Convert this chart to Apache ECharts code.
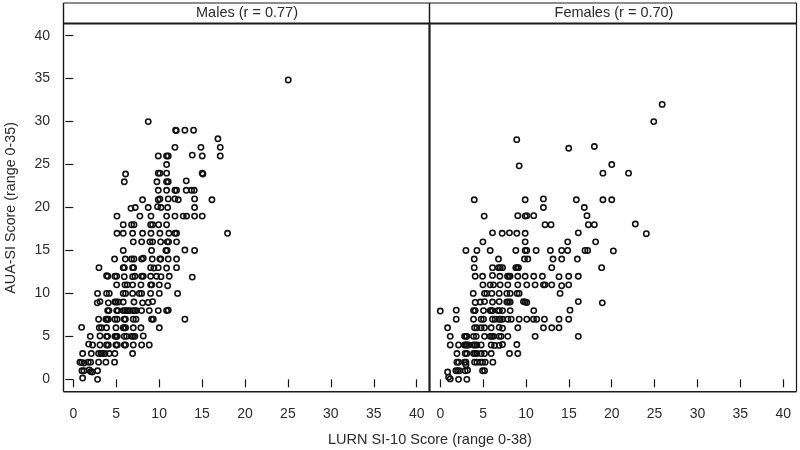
<!DOCTYPE html>
<html><head><meta charset="utf-8">
<style>html,body{margin:0;padding:0;background:#fff}#c{width:800px;height:450px}</style>
<script src="https://cdn.jsdelivr.net/npm/echarts@6/dist/echarts.min.js"></script>
</head><body><div id="c"></div>
<script>
const panelTitles = ['Males (r = 0.77)', 'Females (r = 0.70)'];
const xAxisTitle = 'LURN SI-10 Score (range 0-38)';
const yAxisTitle = 'AUA-SI Score (range 0-35)';
const xTicks = [0,5,10,15,20,25,30,35,40];
const yTicks = [0,5,10,15,20,25,30,35,40];

const malePoints = [
[1.09,0.15],[2.83,0],
[1.01,1],[1.24,1],[1.86,1.1],[2.02,.9],[2.21,.85],[2.83,1],
[.78,2],[.97,1.95],[1.24,1.9],[1.75,2],[2.02,2],[2.95,2],[3.8,2],[4.81,2],
[1.09,3],[2.1,3],[2.95,3],[3.22,3],[3.4,3],[3.69,3],[4.19,3],[4.85,3],[6.91,3],
[1.79,4.1],[2.25,4],[3.11,4],[3.88,4],[4.08,4],[4.97,4],[5.12,4],[5.94,4],[6.09,4],[6.99,4],[7.96,4],[8.85,4],
[1.98,5],[3.11,5.05],[3.88,5],[4.0,5],[4.85,5],[5.12,5],[5.0,5],[5.94,5],[6.21,5],[6.79,5],[7.0,5],[7.18,5],[8.15,5.05],
[.97,6.05],[3.03,6],[3.3,6],[3.88,6],[4.97,6],[5.82,6],[5.95,6],[6.09,6],[6.99,6],[7.88,6],[10.02,6],
[2.95,7],[3.8,7],[4.08,7],[3.95,7],[4.85,7],[5.12,7],[5.94,7],[6.07,7],[6.99,7],[7.3,7],[9.12,7],[9.32,7],[13,7],
[4,8],[4.15,8],[5.05,8],[5.2,8],[5.82,8],[6.0,8],[6.21,8],[6.4,8],[6.6,8],[6.99,8],[7.15,8],[7.38,8],[7.96,8],[8.85,8],[9.9,8],[10.87,8],[11.06,8.05],
[2.8,8.9],[3.11,9.05],[4.08,8.9],[4.85,9],[5.0,9],[5.24,9],[5.82,9],[7.07,9],[8.07,8.9],[8.73,8.95],[9.24,9.05],
[2.83,10],[3.88,10],[4.19,10],[5.82,10],[6.09,10],[6.91,10],[7.69,10],[7.96,10],[9.01,10],[10.02,10],[12.15,10],
[5.05,11],[6.02,11],[6.29,11],[6.91,11],[7.88,11],[9.01,11],[9.15,11],[10.02,11],[10.99,10.9],
[3.88,12.05],[4.02,12],[4.85,12],[5.05,12],[5.94,11.95],[6.91,11.95],[7.18,12],[7.96,12],[8.15,12],[9.01,12],[9.7,12],[10.21,11.95],[11.18,12],[13.86,11.9],
[2.99,13],[5.82,13],[5.95,13],[6.91,13],[7.03,13],[9.01,13],[9.39,12.95],[9.9,13],[10.87,12.95],[12.03,13],
[4.81,14],[6.06,14],[6.79,14],[7.07,14],[7.96,14],[8.15,14.1],[9.2,14],[10.09,14],[10.2,14],[11.06,14],[12.03,14],
[5.82,15],[9.12,15],[10.79,15],[10.93,15],[13,15.05],[14.13,15],
[6.99,16],[7.96,16],[8.93,16],[9.24,16],[10.17,16],[10.95,16],[11.1,16],[12.03,16],
[5.09,17],[5.82,17],[6.91,17],[8.07,17],[9.05,17],[10.09,17],[11.14,17],[11.84,17],[12.03,17],[17.97,17],
[5.82,18],[6.79,18],[7.07,18],[9.01,18],[9.24,18],[9.94,18],[10.87,18],
[5.09,19],[7.76,19],[9.05,19],[10.87,19],[11.84,19],[12.81,19],[13.2,19],[14.13,19],[15.02,19],
[6.72,19.9],[7.22,20],[8.73,20],[9.82,20.1],[10.21,20],[10.99,20],[14.13,20],
[8.07,20.9],[9.9,20.9],[10.09,21],[11.06,21],[11.84,21],[12.23,20.9],[14.13,21],[16.15,20.9],
[9.9,22],[10.87,22],[11.84,22],[12.03,22],[13.16,22],[13.78,22],[14.09,22],
[5.94,23],[9.74,23],[10.87,23],[11.06,23],[13.16,23.1],
[6.09,23.9],[9.9,24],[10.09,24],[10.87,24],[15.02,24],[15.1,23.9],
[10.87,25],
[9.9,26],[10.87,26],[11.06,26],[13.86,26.1],[15.02,26],[17.12,26],
[11.84,27],[14.87,27],[17.12,27],
[16.85,28],
[11.92,29],[12.0,28.95],[13,29],[14.01,29],
[8.73,30],
[25.04,34.85]
];

const femalePoints = [
[.97,.25],[1.16,.05],[2.13,0],[3.1,0],
[.85,.85],[1.82,1],[2.02,1],[2.25,1],[2.91,1],[3.18,1.05],[4.93,1],[5.16,1],
[1.94,2],[2.13,2],[2.83,2],[2.99,1.7],[2.99,2],[4,2],[4.27,2],[4.66,2],[4.93,2],[5.24,2],[6.13,2],
[1.94,3],[2.91,3],[3.1,3],[3.88,3],[4.07,3],[4.27,3],[4.77,3],[5.16,3],[5.94,3],[8.07,3],[9.04,3],
[1.16,4],[2.13,4],[2.83,4],[2.97,4],[3.1,4],[3.3,4],[3.88,4],[4.05,4],[4.27,4],[4.77,4],[5.94,4],[6.33,3.95],[6.87,3.95],[7.26,4.05],[8.93,4.05],
[1.16,5],[2.83,5],[3.0,5],[3.1,5],[3.88,5],[4.19,5],[5.16,5],[5.82,5],[6.0,5],[6.21,5],[6.87,5],[7.1,5],[7.88,5],[11.06,5],[16.1,5],
[.85,6],[4,6],[4.27,6],[4.77,6],[5.16,6],[5.94,6],[6.87,6.05],[7.26,5.95],[9.04,6],[12.03,6],[13,6],[13.85,6],
[1.86,7],[3.88,7],[4.77,7],[5.04,7],[6.09,7],[6.4,7],[6.87,7],[7.0,7],[7.26,7],[7.88,7],[8.27,7],[9.2,7],[10.09,7],[10.87,7],[11.25,7],[12.15,7],[13.85,7],[14.98,7],
[0,7.95],[1.86,8.05],[3.88,8],[4.07,8],[5.04,8],[5.82,8],[5.95,8],[6.09,8],[6.71,8],[6.9,8],[7.26,8],[8.15,8],[10.9,8],[15.13,8.05],
[4.07,8.95],[4.66,9],[5.16,9.05],[6.09,9],[6.87,9.05],[7.76,9],[7.95,9],[8.15,9],[9.7,9.05],[9.9,9],[10.09,8.95],[16.1,9.05],[18.9,8.9],
[3.84,10],[5.16,10],[5.43,10],[6.01,10],[6.87,10],[7.76,10],[8.15,10],[8.96,10],[9.2,10],[13.97,10],
[4.97,11],[5.82,11],[6.21,11],[6.98,11],[7.88,11],[9.04,11],[10.09,11],[11.06,11],[12.03,11],[12.22,11],[13,11],[14.16,10.9],[14.98,11],
[4.07,12],[4.93,12],[6.09,12.1],[6.95,12],[7.84,12],[8.0,12],[8.15,12],[9.04,12],[9.9,12],[10.9,12],[11.91,12],[13.85,11.95],[14.98,12],[16.1,12],
[3.96,13],[6.09,13],[6.79,13],[7.0,13],[7.26,13],[8.81,13],[9.0,13],[9.12,13],[13,13],[18.82,13],
[3.96,14],[6.79,14],[9.82,14],[10.21,14],[13.15,14],[14.16,14],[15.99,14],
[2.99,15],[4.27,15],[5.82,15],[8.81,15],[9.9,15],[10.09,15],[11.18,15],[12.84,15],[14.16,15],[14.86,15],[16.88,15],[17.19,15],[20.19,14.95],
[4.97,16],[9.9,16],[14.86,16],[18.12,16],
[6.09,17.05],[7.22,17],[8.07,17.05],[8.93,17],[9.9,17],[16.1,17.05],[24.03,16.95],
[12.22,18],[12.92,18],[17.27,18],[17.97,18],[22.75,18.08],
[5.12,19],[9.04,19.05],[9.9,19],[10.09,19.05],[10.9,19.05],[17.11,19.05],
[12.03,20],[16.8,20],
[3.96,20.9],[9.9,20.9],[12.03,21],[15.87,20.9],[18.97,20.9],[20,20.9],
[18.97,24],[21.96,24],
[9.2,24.85],[20,25],
[14.98,26.9],[17.97,27.1],
[8.92,27.9],
[24.9,30],
[25.88,32]
];

const ink = '#1a1a1a', textCol = '#2b2b2b';
const font = 'Liberation Sans';
function xAxis(idx){ return {
  gridIndex: idx, type:'value', min:-1.08 - (idx?0.12:0), max: 41.55,
  axisLine:{show:false}, splitLine:{show:false},
  axisTick:{show:true, inside:false, length:8, lineStyle:{color:ink,width:1.2}, customValues:xTicks},
  axisLabel:{color:textCol, fontFamily:font, fontSize:14, margin:15, customValues:xTicks, showMinLabel:true, showMaxLabel:true}
};}
function yAxis(idx){ return {
  gridIndex: idx, type:'value', min:-1.44, max:41.36,
  show: idx===0,
  axisLine:{show:false}, splitLine:{show:false},
  axisTick:{show:true, length:8, lineStyle:{color:ink,width:1.2}, customValues:yTicks},
  axisLabel:{color:textCol, fontFamily:font, fontSize:14, margin:14, customValues:yTicks},
  name: idx===0 ? yAxisTitle : '', nameLocation:'middle', nameGap:46, nameRotate:90,
  nameTextStyle:{color:textCol, fontFamily:font, fontSize:14.3}
};}
function series(idx,data){ return {
  type:'scatter', xAxisIndex:idx, yAxisIndex:idx, data,
  symbol:'circle', symbolSize:5.3, silent:true, animation:false,
  itemStyle:{color:'rgba(0,0,0,0)', borderColor:'#111', borderWidth:1.6, opacity:1}
};}
function ln(x1,y1,x2,y2,w){ return {type:'line', shape:{x1,y1,x2,y2}, style:{stroke:ink,lineWidth:w}, silent:true}; }
const titleStyle = {color:textCol,fontFamily:font,fontSize:14.5,fontWeight:'normal'};

const chart = echarts.init(document.getElementById('c'), null, {renderer:'canvas'});
chart.setOption({
  animation:false,
  backgroundColor:'#fff',
  grid:[
    {left:64, top:24, width:366, height:367.7, containLabel:false},
    {left:430, top:24, width:366.5, height:367.7, containLabel:false}
  ],
  xAxis:[xAxis(0), xAxis(1)],
  yAxis:[yAxis(0), yAxis(1)],
  series:[series(0,malePoints), series(1,femalePoints)],
  title:[
    {text:panelTitles[0], left:247, top:5, textAlign:'center', textStyle:titleStyle, padding:0},
    {text:panelTitles[1], left:614, top:5, textAlign:'center', textStyle:titleStyle, padding:0},
    {text:xAxisTitle, left:430, top:432, textAlign:'center', textStyle:titleStyle, padding:0}
  ],
  graphic:[
    ln(63.5,3,796.5,3,1.2),
    ln(796.5,3,796.5,391.7,1.2),
    ln(63.5,3,63.5,391.7,1.4),
    ln(63.5,391.7,796.5,391.7,1.4),
    ln(63.5,23.5,796.5,23.5,2),
    ln(429.5,3,429.5,23.5,1.5),
    ln(429.5,23.5,429.5,391.7,2.2)
  ]
});
</script></body></html>
